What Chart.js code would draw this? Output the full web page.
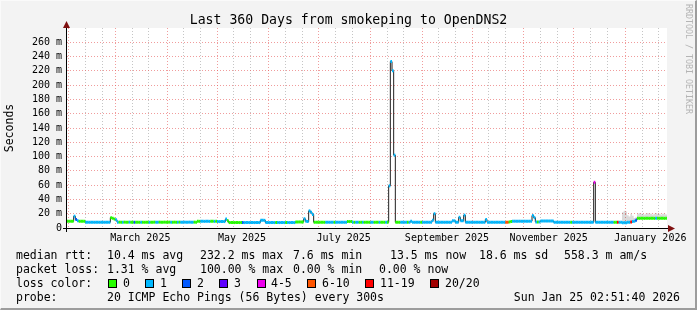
<!DOCTYPE html>
<html>
<head>
<meta charset="utf-8">
<script src="https://cdn.jsdelivr.net/npm/chart.js@4.4.1/dist/chart.umd.min.js"></script>
<style>
html, body { margin: 0; padding: 0; background: #f3f3f3; }
#wrap { position: relative; width: 697px; height: 310px; overflow: hidden; }
#frame { position: absolute; left: 0; top: 0; width: 697px; height: 310px; box-sizing: border-box;
  border-top: 1px solid #fafafa; border-left: 1px solid #fafafa; border-right: 2px solid #9c9c9c; border-bottom: 2px solid #9c9c9c; }
canvas { position: absolute; left: 0; top: 0; }
.row { position: absolute; left: 0; height: 14px; width: 697px; font-family: 'DejaVu Sans Mono', monospace; font-size: 11.5px; line-height: 14px; color: #000; white-space: pre; }
.row span { position: absolute; top: 0; }
.box { position: absolute; top: 3px; width: 9px; height: 9px; box-sizing: border-box; border: 1px solid #000; }
#mark { position: absolute; left: 684px; top: 4px; writing-mode: vertical-rl; font-family: 'DejaVu Sans Mono', monospace; font-size: 8.3px; color: #b4b4b4; white-space: pre; }
</style>
</head>
<body>
<div id="wrap">
  <div id="frame"></div>
  <canvas id="chart" width="697" height="310"></canvas>
  <div id="mark">RRDTOOL / TOBI OETIKER</div>
  <div class="row" style="top:248px">
    <span style="left:16px">median rtt:</span>
    <span style="left:107px">10.4 ms avg</span>
    <span style="left:200px">232.2 ms max</span>
    <span style="left:293px">7.6 ms min</span>
    <span style="left:390px">13.5 ms now</span>
    <span style="left:479px">18.6 ms sd</span>
    <span style="left:564px">558.3 m am/s</span>
  </div>
  <div class="row" style="top:262px">
    <span style="left:16px">packet loss:</span>
    <span style="left:107px">1.31 % avg</span>
    <span style="left:200px">100.00 % max</span>
    <span style="left:293px">0.00 % min</span>
    <span style="left:379px">0.00 % now</span>
  </div>
  <div class="row" id="lossRow" style="top:276px">
    <span style="left:16px">loss color:</span>
  </div>
  <div class="row" style="top:290px">
    <span style="left:16px">probe:</span>
    <span style="left:107px">20 ICMP Echo Pings (56 Bytes) every 300s</span>
    <span style="right:17px">Sun Jan 25 02:51:40 2026</span>
  </div>
</div>
<script>
// one value per day, day 0 = Jan 31 2025 (left edge of the plot)
const medianMs = [
  9.4, 9.4, 9.4, 9.4, 16.5, 12, 10, 9.4, 9.4, 9.4, 9.4, 8.0, 8.0, 8.0, 8.0, 8.0, 8.0, 8.0, 8.0, 8.0, 8.0, 8.0, 8.0, 8.0, 8.0, 8.0, 14.5, 13.5, 12.5, 11.5,
  8.2, 8.2, 8.2, 8.2, 8.2, 8.2, 8.2, 8.2, 8.2, 8.2, 8.0, 8.0, 8.0, 8.0, 8.0, 8.0, 8.0, 8.0, 8.0, 8.0, 8.2, 8.2, 8.2, 8.2, 8.2, 8.2, 8.2, 8.2, 8.2, 8.2,
  8.2, 8.2, 8.2, 8.2, 8.2, 8.2, 8.2, 8.2, 8.2, 8.2, 8.2, 8.2, 8.2, 8.2, 8.2, 8.2, 8.2, 8.2, 9.3, 9.3, 9.3, 9.3, 9.3, 9.3, 9.3, 9.3, 9.3, 9.3, 9.3, 9.3,
  9.0, 9.0, 9.0, 9.0, 9.0, 12.5, 10, 7.6, 7.6, 7.6, 7.6, 7.6, 7.6, 7.6, 7.6, 7.6, 7.6, 7.6, 7.6, 7.6, 7.6, 7.6, 7.6, 7.6, 7.6, 7.6, 10.7, 10.7, 10.7, 7.6,
  7.6, 7.6, 7.6, 7.6, 7.6, 7.6, 7.6, 7.6, 7.6, 7.6, 7.6, 7.6, 7.6, 7.6, 7.6, 7.6, 7.6, 8.5, 8.5, 8.5, 8.5, 8.5, 13, 9.5, 9, 24, 22, 19, 8.0, 8.0,
  8.0, 8.0, 8.0, 8.0, 8.0, 8.0, 8.0, 8.0, 8.0, 8.0, 8.0, 8.0, 8.0, 8.0, 8.0, 8.0, 8.0, 8.0, 9.0, 9.0, 9.0, 8.0, 8.0, 8.0, 8.0, 8.0, 8.0, 8.0, 8.0, 8.0,
  8.0, 8.0, 8.0, 8.0, 8.0, 8.0, 8.0, 8.0, 8.0, 8.0, 8.0, 8.0, 8.0, 59, 233, 220, 102, 8.0, 8.0, 8.0, 8.0, 8.0, 8.0, 8.0, 8.0, 8.0, 9.5, 8.0, 8.0, 8.0,
  8.0, 8.0, 8.0, 8.0, 8.0, 8.0, 8.0, 8.0, 8.0, 11, 20, 8.0, 8.0, 8.0, 8.0, 8.0, 8.0, 8.0, 8.0, 8.0, 8.0, 10, 10, 8.0, 8.0, 15, 10, 10, 18, 8.0,
  8.0, 8.0, 8.0, 8.0, 8.0, 8.0, 8.0, 8.0, 8.0, 8.0, 8.0, 12, 8.0, 8.0, 8.0, 8.0, 8.0, 8.0, 8.0, 8.0, 8.0, 8.0, 8.0, 8.0, 8.0, 8.5, 9, 9.5, 9.5, 9.5,
  9.5, 9.5, 9.5, 9.5, 9.5, 9.5, 9.5, 9.5, 9.5, 17.5, 14.5, 8.5, 8.5, 8.5, 9.8, 9.8, 9.8, 9.8, 9.8, 9.8, 9.8, 9.8, 8.0, 8.0, 8.0, 8.0, 8.0, 8.0, 8.0, 8.0,
  8.0, 8.0, 8.0, 8.0, 8.0, 8.0, 8.0, 8.0, 8.0, 8.0, 8.0, 8.0, 8.0, 8.0, 8.0, 8.0, 64, 8.0, 8.0, 8.0, 8.0, 8.0, 8.0, 8.0, 8.0, 8.0, 8.0, 8.0, 8.0, 8.0,
  8, 8, 8, 7.5, 7.5, 7.5, 8, 8, 8.5, 9, 9.5, 11, 13.5, 13.5, 13.5, 13.5, 13.5, 13.5, 13.5, 13.5, 13.5, 13.5, 13.5, 13.5, 13.5, 13.5, 13.5, 13.5, 13.5, 13.5
];

// lost pings per day, as index into lossColors
const lossCode = [
  0, 0, 0, 0, 1, 2, 1, 0, 0, 0, 0, 1, 1, 1, 1, 1, 1, 1, 1, 1, 1, 1, 1, 1, 1, 1, 0, 0, 0, 1,
  1, 0, 0, 1, 0, 0, 0, 1, 0, 0, 2, 0, 0, 0, 1, 0, 0, 0, 0, 1, 0, 0, 0, 1, 1, 0, 0, 0, 0, 0,
  0, 0, 1, 0, 0, 0, 1, 0, 1, 1, 1, 1, 1, 1, 1, 1, 0, 0, 0, 0, 1, 1, 1, 1, 1, 1, 0, 0, 1, 0,
  1, 1, 1, 1, 1, 1, 0, 0, 0, 0, 0, 0, 0, 0, 0, 2, 1, 1, 1, 1, 1, 1, 1, 1, 1, 1, 1, 1, 1, 1,
  1, 1, 1, 1, 1, 0, 1, 1, 1, 1, 1, 0, 1, 1, 1, 1, 1, 0, 0, 0, 0, 0, 1, 1, 1, 1, 1, 1, 0, 0,
  0, 0, 0, 0, 0, 1, 1, 1, 1, 1, 0, 1, 1, 1, 1, 1, 1, 1, 0, 0, 0, 1, 0, 1, 1, 0, 0, 1, 0, 0,
  0, 0, 1, 1, 0, 0, 0, 1, 0, 0, 0, 1, 0, 1, 1, 1, 1, 0, 0, 0, 1, 1, 1, 1, 0, 1, 1, 1, 1, 1,
  1, 1, 0, 1, 1, 1, 1, 1, 1, 1, 1, 1, 1, 1, 1, 1, 1, 1, 1, 1, 1, 1, 1, 1, 1, 1, 1, 1, 1, 1,
  1, 1, 1, 1, 1, 1, 1, 1, 1, 1, 1, 1, 1, 1, 1, 1, 1, 1, 1, 1, 1, 1, 1, 5, 5, 0, 0, 1, 1, 1,
  1, 1, 1, 1, 1, 1, 1, 1, 1, 1, 1, 1, 0, 1, 1, 1, 1, 1, 1, 1, 1, 1, 1, 1, 1, 1, 1, 1, 1, 1,
  1, 1, 0, 1, 1, 1, 1, 1, 1, 1, 1, 1, 1, 1, 1, 1, 4, 1, 1, 1, 1, 1, 1, 1, 1, 1, 1, 1, 0, 0,
  6, 1, 1, 1, 1, 1, 1, 1, 6, 1, 1, 2, 0, 0, 0, 0, 0, 0, 0, 0, 0, 0, 0, 1, 0, 0, 0, 0, 0, 0
];

// ping spread ("smoke") only visible at the end of the range
const smokeFirstDay = 333;
const smokeHiMs = [22, 24, 23, 18, 16, 20, 17, 14, 15, 20, 21, 20, 20, 19, 20, 21, 20, 20, 19, 20, 21, 20, 20, 19, 20, 20, 19];
const smokeLoMs = [7, 7, 7, 7.5, 7.5, 8, 8.5, 9, 10.5, 12.5, 12.5, 12.5, 12.5, 12.5, 12.5, 12.5, 12.5, 12.5, 12.5, 12.5, 12.5, 12.5, 12.5, 12.5, 12.5, 12.5, 12.5];

const lossColors = ['#26ff00', '#00b8ff', '#0059ff', '#5e00ff', '#ee00ee', '#ff5500', '#ff0000', '#a10000'];
const lossLabels = ['0', '1', '2', '3', '4-5', '6-10', '11-19', '20/20'];
const lossBoxX = [108, 145, 182, 219, 257, 307, 365, 430];
const lossTextX = [123, 160, 197, 234, 271, 322, 380, 445];

// x axis, in days from Jan 31 2025
const monthStartDays = [1, 29, 60, 90, 121, 151, 182, 213, 243, 274, 304, 335];
const minorGridDays = [11, 21, 39, 49, 70, 80, 100, 110, 131, 141, 161, 171, 192, 202, 223, 233, 253, 263, 284, 294, 314, 324, 345, 355];
const monthLabelDays = [44, 105, 166, 228, 289, 350];
const monthLabels = ['March 2025', 'May 2025', 'July 2025', 'September 2025', 'November 2025', 'January 2026'];

// y axis, ms
const yGridMs = [0, 10, 20, 30, 40, 50, 60, 70, 80, 90, 100, 110, 120, 130, 140, 150, 160, 170, 180, 190, 200, 210, 220, 230, 240, 250, 260, 270];
const yLabelMs = [0, 20, 40, 60, 80, 100, 120, 140, 160, 180, 200, 220, 240, 260];

const monoFont = 'DejaVu Sans Mono';

// legend colour boxes
const lossRow = document.getElementById('lossRow');
lossLabels.forEach((lab, i) => {
  const b = document.createElement('div');
  b.className = 'box';
  b.style.left = lossBoxX[i] + 'px';
  b.style.background = lossColors[i];
  lossRow.appendChild(b);
  const t = document.createElement('span');
  t.style.left = lossTextX[i] + 'px';
  t.textContent = lab;
  lossRow.appendChild(t);
});

// each day becomes its own short horizontal piece coloured by loss
const bandPoints = [];
medianMs.forEach((v, d) => {
  bandPoints.push({x: d, y: v}, {x: d + 1, y: v}, {x: d + 1, y: null});
});
const medianPoints = medianMs.map((v, d) => ({x: d, y: v}));
medianPoints.push({x: medianMs.length, y: medianMs[medianMs.length - 1]});

const smokeHiPoints = smokeHiMs.map((v, i) => ({x: smokeFirstDay + i, y: v}));
smokeHiPoints.push({x: medianMs.length, y: smokeHiMs[smokeHiMs.length - 1]});
const smokeLoPoints = smokeLoMs.map((v, i) => ({x: smokeFirstDay + i, y: v}));
smokeLoPoints.push({x: medianMs.length, y: smokeLoMs[smokeLoMs.length - 1]});

const xTicks = monthStartDays.concat(minorGridDays, monthLabelDays).sort((a, b) => a - b);

const plotFrame = {
  id: 'plotFrame',
  beforeDraw(chart) {
    const {ctx, chartArea: a} = chart;
    ctx.save();
    ctx.fillStyle = '#ffffff';
    ctx.fillRect(a.left, a.top, a.right - a.left, a.bottom - a.top);
    ctx.restore();
  },
  afterDraw(chart) {
    const {ctx, chartArea: a} = chart;
    ctx.save();
    ctx.strokeStyle = '#000';
    ctx.lineWidth = 1;
    ctx.beginPath();
    ctx.moveTo(a.left - 4, a.bottom + 0.5);
    ctx.lineTo(a.right + 2, a.bottom + 0.5);
    ctx.moveTo(a.left - 0.5, a.bottom + 4);
    ctx.lineTo(a.left - 0.5, a.top - 2);
    ctx.stroke();
    ctx.fillStyle = '#7f1010';
    ctx.beginPath();
    ctx.moveTo(a.right + 8, a.bottom + 0.5);
    ctx.lineTo(a.right + 1, a.bottom - 3);
    ctx.lineTo(a.right + 1, a.bottom + 4);
    ctx.fill();
    ctx.beginPath();
    ctx.moveTo(a.left - 0.5, a.top - 7);
    ctx.lineTo(a.left - 4, a.top);
    ctx.lineTo(a.left + 3, a.top);
    ctx.fill();
    ctx.restore();
  }
};

new Chart(document.getElementById('chart'), {
  type: 'line',
  data: {
    datasets: [
      {
        data: bandPoints,
        borderColor: lossColors[0],
        borderWidth: 3,
        borderCapStyle: 'butt',
        pointRadius: 0,
        spanGaps: false,
        segment: {
          borderColor: ctx => lossColors[lossCode[Math.floor(ctx.p0DataIndex / 3)]]
        }
      },
      {
        data: medianPoints,
        stepped: true,
        borderColor: '#202020',
        borderWidth: 1,
        pointRadius: 0
      },
      {
        data: smokeHiPoints,
        stepped: true,
        borderColor: 'transparent',
        backgroundColor: 'rgba(0, 0, 0, 0.14)',
        fill: '+1',
        pointRadius: 0
      },
      {
        data: smokeLoPoints,
        stepped: true,
        borderColor: 'transparent',
        fill: false,
        pointRadius: 0
      }
    ]
  },
  options: {
    responsive: false,
    animation: false,
    devicePixelRatio: 1,
    layout: { padding: { left: 0, top: 0, right: 0, bottom: 62 } },
    plugins: {
      legend: { display: false },
      tooltip: { enabled: false },
      title: {
        display: true,
        text: 'Last 360 Days from smokeping to OpenDNS2',
        color: '#000',
        font: { family: monoFont, size: 13.2, weight: 'normal', lineHeight: 15 / 13.2 },
        padding: { top: 13, bottom: 0 }
      }
    },
    scales: {
      x: {
        type: 'linear',
        min: 0,
        max: 360,
        afterBuildTicks: s => { s.ticks = xTicks.map(v => ({value: v})); },
        afterFit: s => { s.height = 20; },
        grid: {
          drawTicks: false,
          color: c => {
            const v = c.tick.value;
            if (monthStartDays.includes(v)) return 'rgba(230, 90, 90, 0.6)';
            if (minorGridDays.includes(v)) return 'rgba(140, 140, 140, 0.5)';
            return 'transparent';
          }
        },
        border: { display: false, dash: [1, 2] },
        ticks: {
          autoSkip: false,
          maxRotation: 0,
          padding: 4,
          color: '#000',
          font: { family: monoFont, size: 10 },
          callback: v => {
            const i = monthLabelDays.indexOf(v);
            return i >= 0 ? monthLabels[i] : '';
          }
        }
      },
      y: {
        min: 0,
        max: 280,
        afterBuildTicks: s => { s.ticks = yGridMs.map(v => ({value: v})); },
        afterFit: s => { s.width = 67; },
        grid: {
          drawTicks: false,
          color: c => {
            const v = c.tick.value;
            if (v === 0) return 'transparent';
            return yLabelMs.includes(v) ? 'rgba(230, 90, 90, 0.6)' : 'rgba(140, 140, 140, 0.5)';
          }
        },
        border: { display: false, dash: [1, 2] },
        ticks: {
          padding: 5,
          color: '#000',
          font: { family: monoFont, size: 10 },
          callback: v => {
            if (!yLabelMs.includes(v)) return '';
            return v === 0 ? '0' : v + ' m';
          }
        },
        title: {
          display: true,
          text: 'Seconds',
          color: '#000',
          font: { family: monoFont, size: 11.5 },
          padding: { top: 3.5, bottom: 0 }
        }
      },
      // empty strip on the right so the plot ends at x=667 while the title stays centred on the page
      pad: {
        position: 'right',
        afterFit: s => { s.width = 30; },
        grid: { display: false, drawOnChartArea: false },
        border: { display: false },
        ticks: { display: false }
      }
    }
  },
  plugins: [plotFrame]
});
</script>
</body>
</html>
